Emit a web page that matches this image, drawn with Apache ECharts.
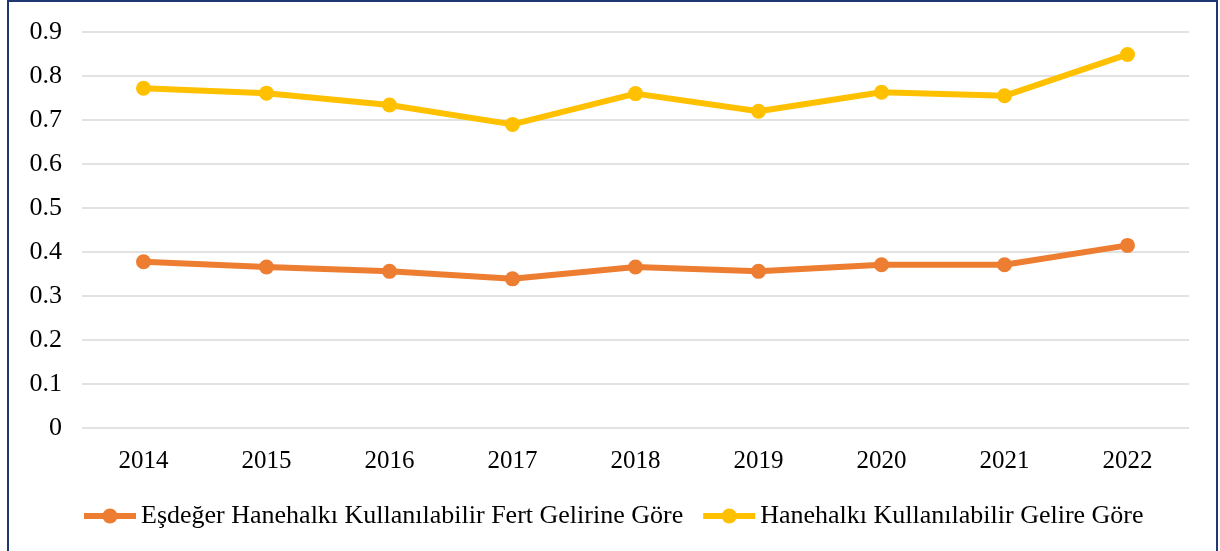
<!DOCTYPE html>
<html>
<head>
<meta charset="utf-8">
<script src="https://cdn.jsdelivr.net/npm/echarts@6/dist/echarts.min.js"></script>
<style>
html,body{margin:0;padding:0;background:#fff;}
#frame{position:absolute;left:7px;top:0px;width:1207px;height:570px;border:2px solid #1F3872;border-bottom:none;box-sizing:content-box;}
#chart{position:absolute;left:0;top:0;width:1220px;height:551px;}
</style>
</head>
<body>
<div id="frame"></div>
<div id="chart"></div>
<script>
const years = ['2014','2015','2016','2017','2018','2019','2020','2021','2022'];
const seriesNames = ['Eşdeğer Hanehalkı Kullanılabilir Fert Gelirine Göre', 'Hanehalkı Kullanılabilir Gelire Göre'];
const esdegerValues = [0.378, 0.366, 0.356, 0.339, 0.366, 0.356, 0.371, 0.371, 0.415];
const hanehalkiValues = [0.772, 0.761, 0.734, 0.690, 0.760, 0.720, 0.763, 0.755, 0.849];
const colors = ['#ED7D31', '#FFC000'];
const fontFamily = '"Liberation Serif", "Times New Roman", serif';

const chart = echarts.init(document.getElementById('chart'), null, {renderer: 'canvas'});
const mkSeries = (name, data, color) => ({
  name: name,
  type: 'line',
  data: data,
  symbol: 'circle',
  symbolSize: 15,
  lineStyle: {color: color, width: 6},
  itemStyle: {color: color},
  emphasis: {disabled: true},
  animation: false
});
chart.setOption({
  animation: false,
  backgroundColor: 'transparent',
  textStyle: {fontFamily: fontFamily},
  grid: {left: 82, right: 31, top: 32, bottom: 123, containLabel: false},
  legend: {
    data: seriesNames,
    left: 81,
    top: 503,
    padding: 0,
    itemWidth: 52,
    itemHeight: 19,
    itemGap: 17,
    lineStyle: {width: 6},
    textStyle: {fontFamily: fontFamily, fontSize: 26, color: '#000'}
  },
  xAxis: {
    type: 'category',
    data: years,
    boundaryGap: true,
    axisLine: {show: false},
    axisTick: {show: false},
    axisLabel: {fontFamily: fontFamily, fontSize: 25, color: '#000', margin: 21}
  },
  yAxis: {
    type: 'value',
    min: 0,
    max: 0.9,
    interval: 0.1,
    axisLine: {show: false},
    axisTick: {show: false},
    splitLine: {lineStyle: {color: '#D9D9D9', width: 1.5}},
    axisLabel: {fontFamily: fontFamily, fontSize: 26, color: '#000', margin: 20,
      formatter: v => (Math.round(v * 10) / 10).toString()}
  },
  series: [
    mkSeries(seriesNames[0], esdegerValues, colors[0]),
    mkSeries(seriesNames[1], hanehalkiValues, colors[1])
  ]
});
</script>
</body>
</html>
